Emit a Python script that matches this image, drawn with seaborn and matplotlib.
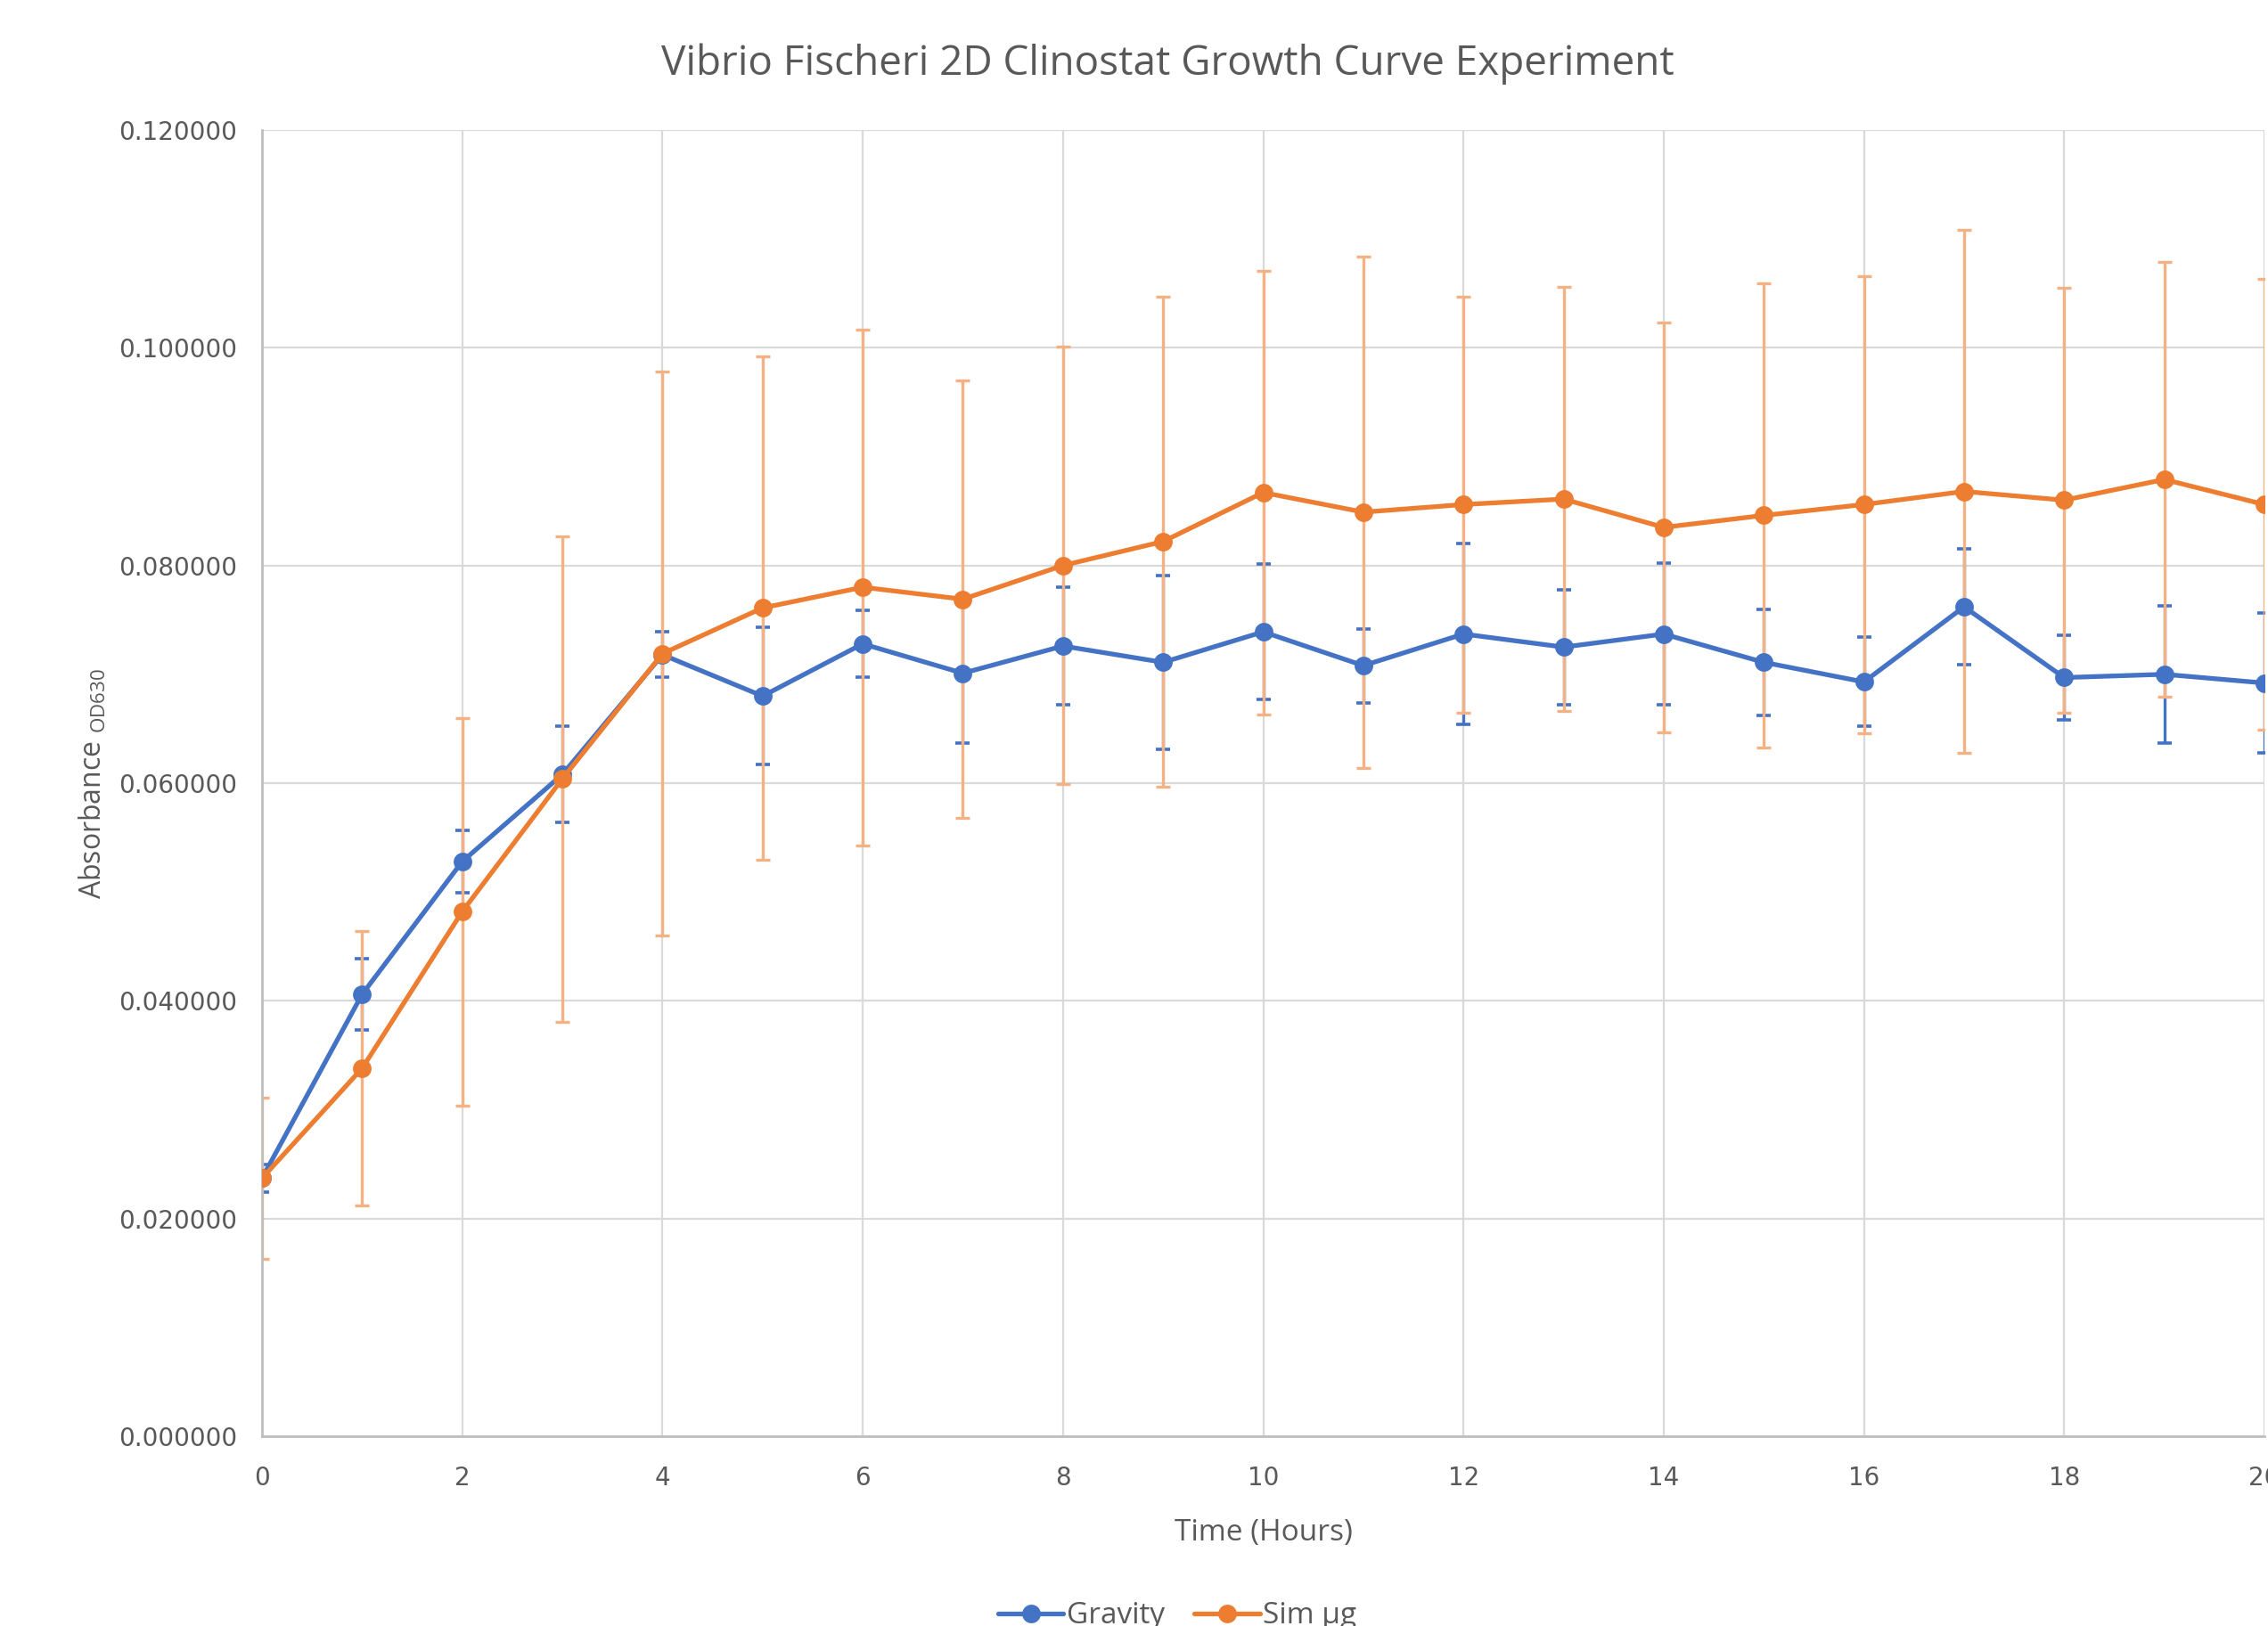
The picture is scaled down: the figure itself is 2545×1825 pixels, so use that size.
import pandas as pd
import matplotlib
matplotlib.use("Agg")
import matplotlib.pyplot as plt
import seaborn as sns

hours = list(range(21))
gravity = [0.0237, 0.0406, 0.0528, 0.0608, 0.0718, 0.0680, 0.0728, 0.0701, 0.0726, 0.0711, 0.0739,
           0.0708, 0.0737, 0.0725, 0.0737, 0.0711, 0.0693, 0.0762, 0.0697, 0.0700, 0.0692]
gravity_err = [0.0013, 0.0033, 0.0029, 0.0044, 0.0021, 0.0063, 0.0031, 0.0064, 0.0054, 0.0080, 0.0062,
               0.0034, 0.0083, 0.0053, 0.0065, 0.0049, 0.0041, 0.0053, 0.0039, 0.0063, 0.0064]
sim_ug = [0.0237, 0.0338, 0.0482, 0.0604, 0.0719, 0.0761, 0.0780, 0.0769, 0.0800, 0.0822, 0.0867,
          0.0849, 0.0856, 0.0861, 0.0835, 0.0846, 0.0856, 0.0868, 0.0860, 0.0879, 0.0856]
sim_ug_err = [0.0074, 0.0126, 0.0178, 0.0223, 0.0259, 0.0231, 0.0237, 0.0201, 0.0201, 0.0225, 0.0204,
              0.0235, 0.0191, 0.0195, 0.0188, 0.0213, 0.0210, 0.0240, 0.0195, 0.0200, 0.0207]
series_names = ["Gravity", "Sim µg"]
x_ticks = list(range(0, 21, 2))
y_ticks = [0.0, 0.02, 0.04, 0.06, 0.08, 0.10, 0.12]


def main():
    sns.set_style("whitegrid")
    plt.rcParams["font.family"] = ["Open Sans", "DejaVu Sans"]
    plt.rcParams["mathtext.fontset"] = "custom"
    plt.rcParams["mathtext.rm"] = "Open Sans"

    grey = "#595959"
    blue, orange = "#4472C4", "#ED7D31"
    blue_err, orange_err = "#4472C4", "#F4B183"

    df = pd.DataFrame({
        "hour": hours * 2,
        "absorbance": gravity + sim_ug,
        "series": [series_names[0]] * len(hours) + [series_names[1]] * len(hours),
    })

    fig = plt.figure(figsize=(25.45, 18.25), dpi=100)
    ax = fig.add_axes([294 / 2545, 1 - 1612 / 1825, (2541 - 294) / 2545, (1612 - 146) / 1825])

    # error bars: blue first, orange over it
    ax.errorbar(hours, gravity, yerr=gravity_err, fmt="none", ecolor=blue_err,
                elinewidth=2.4, capsize=6, capthick=2.6, zorder=2)
    ax.errorbar(hours, sim_ug, yerr=sim_ug_err, fmt="none", ecolor=orange_err,
                elinewidth=2.4, capsize=6, capthick=2.4, zorder=2.5)

    sns.lineplot(data=df, x="hour", y="absorbance", hue="series", ax=ax,
                 palette=[blue, orange], marker="o", markersize=15,
                 markeredgewidth=0, linewidth=3.8, zorder=3)

    ax.set_xlim(0, 20)
    ax.set_ylim(0, 0.12)
    ax.set_xticks(x_ticks)
    ax.set_yticks(y_ticks)
    ax.set_yticklabels([f"{v:.6f}" for v in y_ticks])
    ax.tick_params(axis="both", length=0, labelsize=20, colors=grey, pad=20)
    ax.tick_params(axis="x", pad=24)
    for lab in ax.get_xticklabels() + ax.get_yticklabels():
        lab.set_family(["DejaVu Sans"])

    ax.grid(True, color="#D9D9D9", linewidth=1.6)
    for side in ["top", "right"]:
        ax.spines[side].set_visible(False)
    for side in ["left", "bottom"]:
        ax.spines[side].set_color("#BFBFBF")
        ax.spines[side].set_linewidth(2)

    ax.set_xlabel("Time (Hours)", fontsize=24, color=grey, labelpad=22)
    ax.set_ylabel(r"Absorbance $_{\mathregular{OD630}}$", fontsize=23, color=grey, labelpad=8)
    fig.text(1310 / 2545, 1 - 72 / 1825, "Vibrio Fischeri 2D Clinostat Growth Curve Experiment",
             ha="center", va="center", fontsize=33, color=grey)

    handles, labels = ax.get_legend_handles_labels()
    ax.get_legend().remove()
    fig.legend(handles, labels, loc="center", bbox_to_anchor=(1321 / 2545, 1 - 1814 / 1825),
               ncol=2, frameon=False, fontsize=24, labelcolor=grey, handlelength=2.2,
               handletextpad=0.1, columnspacing=1.0, borderpad=0)

    fig.savefig("out.png", dpi=100)


if __name__ == "__main__":
    main()
